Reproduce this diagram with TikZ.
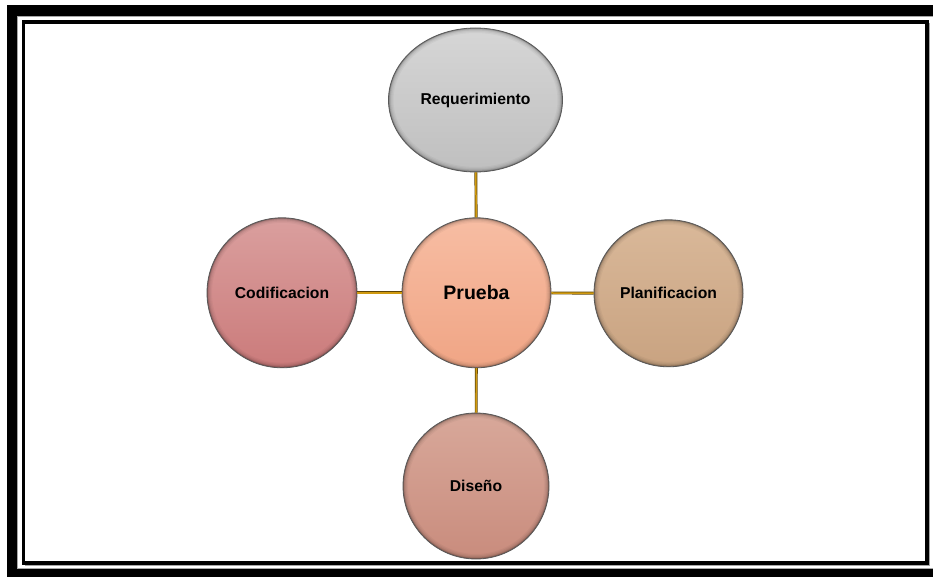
\documentclass[tikz,border=0pt]{standalone}
\usepackage{fontspec}
\setmainfont{Liberation Sans}
\usetikzlibrary{shapes.geometric}
\definecolor{goldcore}{HTML}{D09A10}
\definecolor{goldedge}{HTML}{5E4608}
\definecolor{reqtop}{HTML}{D6D6D6}
\definecolor{reqbot}{HTML}{BFBFBF}
\definecolor{prutop}{HTML}{F7BDA3}
\definecolor{prubot}{HTML}{F0A585}
\definecolor{platop}{HTML}{D9B899}
\definecolor{plabot}{HTML}{C9A381}
\definecolor{codtop}{HTML}{DA9F9E}
\definecolor{codbot}{HTML}{CB7B7B}
\definecolor{distop}{HTML}{D8A89A}
\definecolor{disbot}{HTML}{C98C7D}
\tikzset{
  bubble/.style n args={4}{ellipse, inner sep=0pt,
    minimum width={2*#1pt}, minimum height={2*#2pt},
    top color=#3, bottom color=#4, draw=black!65, line width=0.8pt,
    text=black, font=\bfseries\fontsize{15.7}{18}\selectfont,
    path picture={
      \foreach \w/\o in {10/0.035,7.5/0.045,5/0.07,3/0.1,1.5/0.22}{
        \draw[line width=\w pt, black, opacity=\o]
          (path picture bounding box.center) ellipse [x radius=#1, y radius=#2];
      }
    }},
  conn/.style={draw=goldedge, line width=0.7pt, double=goldcore, double distance=1.5pt},
  outerframe/.style={draw=black, line width=10.5pt},
  innerframe/.style={draw=black, line width=3.5pt},
  frameshade/.style={draw=black!35, line width=1.2pt}
}
\begin{document}
\begin{tikzpicture}[x=1pt,y=-1pt]
\useasboundingbox (0,0) rectangle (933,577);
\clip (0,0) rectangle (933,577);
\fill[white] (0,0) rectangle (933,577);
% frames
\draw[outerframe] (12,10.5) rectangle (945,574.5);
\draw[frameshade] (17.8,16.3) rectangle (945,568.2);
\draw[frameshade] (25,565.6) -- (929.6,565.6) -- (929.6,23);
\draw[innerframe] (23.5,22) rectangle (927,563.2);
% nodes
\node[bubble={87}{72}{reqtop}{reqbot}] (req) at (475.5,100) {Requerimiento};
\node[bubble={74.5}{75}{prutop}{prubot}, font=\bfseries\fontsize{19.5}{22}\selectfont] (pru) at (476.5,292.8) {Prueba};
\node[bubble={74.5}{73.5}{platop}{plabot}] (pla) at (668.5,293.3) {Planificacion};
\node[bubble={75}{75}{codtop}{codbot}] (cod) at (282,292.8) {Codificacion};
\node[bubble={73}{73}{distop}{disbot}] (dis) at (476,486) {Diseño};
% connectors
\draw[conn] (req) -- (pru);
\draw[conn] (pru) -- (dis);
\draw[conn] (cod) -- (pru);
\draw[conn] (pru) -- (pla);
\end{tikzpicture}
\end{document}
